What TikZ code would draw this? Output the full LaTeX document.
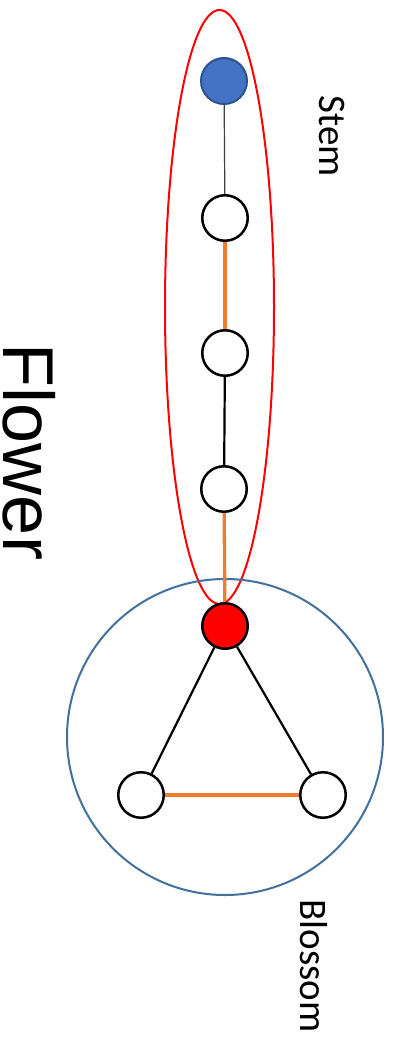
\documentclass[tikz,border=0pt]{standalone}
\usepackage{fontspec}
\setmainfont{Carlito}
\newfontfamily\flowerfont{Liberation Sans}
\definecolor{nodeblue}{HTML}{4472C4}
\definecolor{nodeblueb}{HTML}{2F528F}
\definecolor{ringblue}{HTML}{41719C}
\definecolor{edgeorange}{HTML}{ED7D31}
\begin{document}
\begin{tikzpicture}[x=1pt,y=-1pt,
  vtx/.style={circle,draw=black,line width=2.5pt,fill=white,minimum size=45.5pt,inner sep=0pt},
  blk/.style={black,line width=2.2pt},
  org/.style={edgeorange,line width=3.3pt},
  lbl/.style={rotate=-90,anchor=base,inner sep=0pt,font=\fontsize{39}{42}\selectfont}]
\useasboundingbox (0,0) rectangle (393,1038);
\fill[white] (0,0) rectangle (393,1038);
\draw[red,line width=2pt] (219.5,307) ellipse [x radius=54.5, y radius=297];
\draw[ringblue,line width=2pt] (225,737) circle [radius=158];
\node[vtx,fill=nodeblue,draw=nodeblueb,line width=2pt,minimum size=46pt] (b) at (224,81) {};
\node[vtx] (w1) at (225,218) {};
\node[vtx] (w2) at (225,353) {};
\node[vtx] (w3) at (224,489) {};
\node[vtx,fill=red] (r) at (225,626) {};
\node[vtx] (bl) at (141,795) {};
\node[vtx] (br) at (323,795) {};
\draw[black!75,line width=1.2pt] (b) -- (w1);
\draw[org] (w1) -- (w2);
\draw[blk] (w2) -- (w3);
\draw[org] (w3) -- (r);
\draw[blk] (r) -- (bl);
\draw[blk] (r) -- (br);
\draw[org] (bl) -- (br);
\node[lbl] (stem) at (319,136) {Stem};
\node[lbl] (blossom) at (300,966) {Blossom};
\node[rotate=-90,anchor=base,inner sep=0pt,font=\flowerfont\fontsize{72}{80}\selectfont] (flower) at (4,452) {Flower};
\end{tikzpicture}
\end{document}
